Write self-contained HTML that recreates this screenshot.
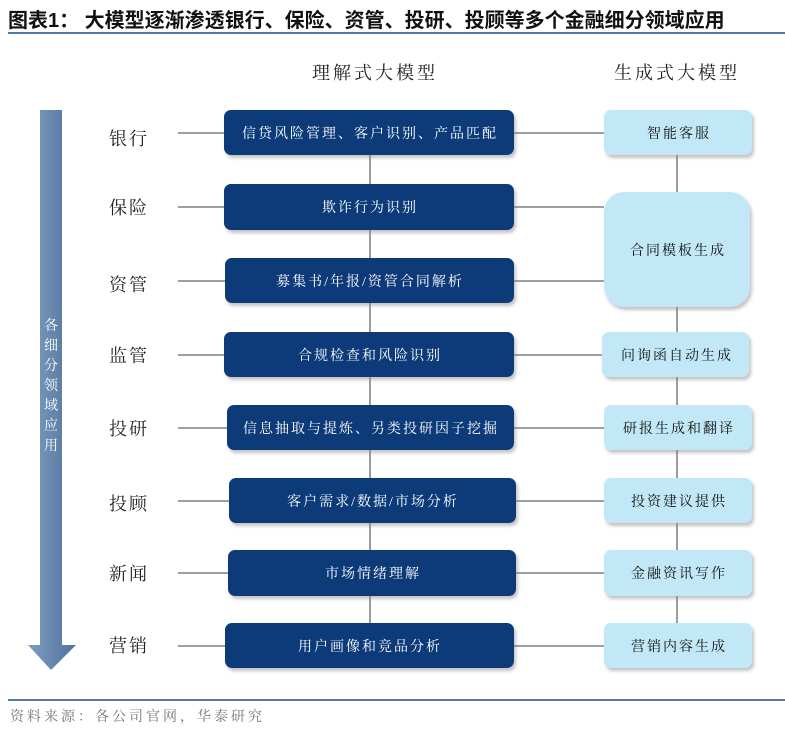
<!DOCTYPE html><html><head><meta charset="utf-8"><style>
body{margin:0;background:#fff;width:785px;height:737px;overflow:hidden}
svg text{font-family:"Liberation Serif","Noto Serif CJK SC",serif}
</style></head><body>
<svg width="785" height="737" xmlns="http://www.w3.org/2000/svg">
<defs>
<linearGradient id="ar" x1="0" x2="1"><stop offset="0" stop-color="#7f9dc0"/><stop offset="1" stop-color="#4f739c"/></linearGradient>
<filter id="sh" x="-10%" y="-10%" width="130%" height="140%"><feDropShadow dx="2" dy="3" stdDeviation="1.5" flood-color="#888" flood-opacity="0.5"/></filter>
</defs>
<text x="8" y="27" font-size="20" font-weight="bold" fill="#111" style="font-family:'Liberation Sans','Noto Sans CJK SC',sans-serif">图表1：  大模型逐渐渗透银行、保险、资管、投研、投顾等多个金融细分领域应用</text>
<rect x="8" y="32" width="777" height="2" fill="#5677a5"/>
<text x="375" y="79" font-size="18" letter-spacing="3" text-anchor="middle" fill="#222">理解式大模型</text>
<text x="677" y="79" font-size="18" letter-spacing="3" text-anchor="middle" fill="#222">生成式大模型</text>
<polygon points="40,110 62,110 62,645 76,645 51,670 28,645 40,645" fill="url(#ar)"/>
<g fill="#fff" font-size="14" text-anchor="middle" style="font-family:'Liberation Sans','Noto Sans CJK SC',sans-serif">
<text x="51" y="330">各</text><text x="51" y="350">细</text><text x="51" y="370">分</text><text x="51" y="390">领</text><text x="51" y="410">域</text><text x="51" y="430">应</text><text x="51" y="450">用</text></g>
<g stroke="#666" stroke-width="1.3">
<line x1="370" y1="150" x2="370" y2="630"/>
<line x1="677" y1="150" x2="677" y2="630"/>
<line x1="178" y1="133" x2="604" y2="133"/>
<line x1="178" y1="207" x2="604" y2="207"/>
<line x1="178" y1="281" x2="604" y2="281"/>
<line x1="178" y1="355" x2="604" y2="355"/>
<line x1="178" y1="428" x2="604" y2="428"/>
<line x1="178" y1="501" x2="604" y2="501"/>
<line x1="178" y1="573" x2="604" y2="573"/>
<line x1="178" y1="646" x2="604" y2="646"/>
</g>
<g font-size="18" fill="#222" text-anchor="middle" letter-spacing="2">
<text x="129" y="145">银行</text><text x="129" y="214">保险</text><text x="129" y="291">资管</text><text x="129" y="362">监管</text><text x="129" y="435">投研</text><text x="129" y="510">投顾</text><text x="129" y="580">新闻</text><text x="129" y="652">营销</text></g>
<g fill="#0b3a7a" filter="url(#sh)">
<rect x="224" y="110" width="290" height="45" rx="7"/>
<rect x="224" y="184" width="290" height="46" rx="7"/>
<rect x="225" y="258" width="289" height="45" rx="7"/>
<rect x="224" y="332" width="290" height="45" rx="7"/>
<rect x="227" y="405" width="287" height="45" rx="7"/>
<rect x="229" y="478" width="287" height="45" rx="7"/>
<rect x="228" y="550" width="288" height="46" rx="7"/>
<rect x="225" y="623" width="289" height="45" rx="7"/>
</g>
<g fill="#fff" font-size="14" text-anchor="middle" letter-spacing="2">
<text x="370" y="138">信贷风险管理、客户识别、产品匹配</text>
<text x="370" y="212">欺诈行为识别</text>
<text x="370" y="286">募集书/年报/资管合同解析</text>
<text x="370" y="360">合规检查和风险识别</text>
<text x="371" y="433">信息抽取与提炼、另类投研因子挖掘</text>
<text x="373" y="506">客户需求/数据/市场分析</text>
<text x="373" y="578">市场情绪理解</text>
<text x="370" y="651">用户画像和竞品分析</text>
</g>
<g fill="#c2e8f7" filter="url(#sh)">
<rect x="604" y="110" width="148" height="45" rx="7"/>
<rect x="604" y="192" width="146" height="115" rx="20"/>
<rect x="602" y="332" width="147" height="45" rx="7"/>
<rect x="604" y="405" width="148" height="45" rx="7"/>
<rect x="604" y="478" width="148" height="45" rx="7"/>
<rect x="604" y="550" width="148" height="46" rx="7"/>
<rect x="604" y="623" width="148" height="45" rx="7"/>
</g>
<g fill="#111" font-size="14" text-anchor="middle" letter-spacing="2">
<text x="679" y="138">智能客服</text>
<text x="678" y="255">合同模板生成</text>
<text x="677" y="360">问询函自动生成</text>
<text x="679" y="433">研报生成和翻译</text>
<text x="679" y="506">投资建议提供</text>
<text x="679" y="578">金融资讯写作</text>
<text x="679" y="651">营销内容生成</text>
</g>
<rect x="8" y="699" width="777" height="2" fill="#5677a5"/>
<text x="10" y="721" font-size="14" letter-spacing="3" fill="#777">资料来源：各公司官网，华泰研究</text>
</svg>
</body></html>
